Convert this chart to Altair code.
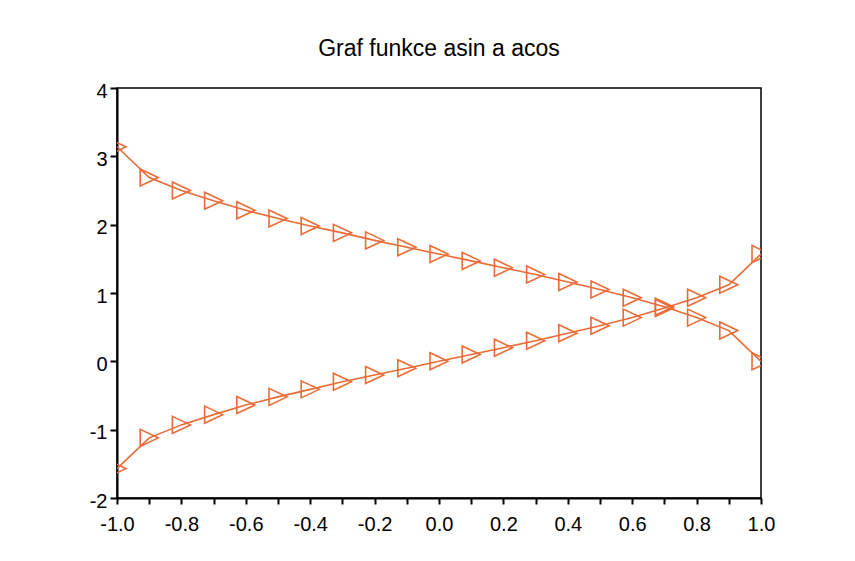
import altair as alt
import pandas as pd

x_vals = [-1.0, -0.9, -0.8, -0.7, -0.6, -0.5, -0.4, -0.3, -0.2, -0.1, 0.0,
          0.1, 0.2, 0.3, 0.4, 0.5, 0.6, 0.7, 0.8, 0.9, 1.0]
asin_vals = [-1.57, -1.12, -0.93, -0.78, -0.64, -0.52, -0.41, -0.30, -0.20, -0.10, 0.0,
             0.10, 0.20, 0.30, 0.41, 0.52, 0.64, 0.78, 0.93, 1.12, 1.57]
acos_vals = [3.14, 2.69, 2.50, 2.35, 2.21, 2.09, 1.98, 1.88, 1.77, 1.67, 1.57,
             1.47, 1.37, 1.27, 1.16, 1.05, 0.93, 0.80, 0.64, 0.45, 0.0]
x_ticks = [round(-1.0 + 0.1 * i, 1) for i in range(21)]
y_ticks = [-2 + 0.25 * i for i in range(25)]

rows = []
for xv, a in zip(x_vals, asin_vals):
    rows.append({"x": xv, "y": a, "f": "asin"})
for xv, c in zip(x_vals, acos_vals):
    rows.append({"x": xv, "y": c, "f": "acos"})
df = pd.DataFrame(rows)

COLOR = "#ec6a35"
FONT = "Liberation Sans"

xenc = alt.X("x:Q", scale=alt.Scale(domain=[-1, 1], nice=False, zero=False),
             axis=alt.Axis(values=x_ticks, format=".1f",
                           labelExpr="abs(round(datum.value*10)) % 2 == 0 ? replace(datum.label, '\u2212', '-') : ''",
                           title=None, grid=False, domainColor="black", domainWidth=2,
                           tickColor="black", tickWidth=2, tickSize=6,
                           labelFont=FONT, labelFontSize=20, labelColor="black",
                           labelPadding=10, labelFlush=False))
yenc = alt.Y("y:Q", scale=alt.Scale(domain=[-2, 4], nice=False, zero=False),
             axis=alt.Axis(values=y_ticks, format="d",
                           labelExpr="datum.value % 1 == 0 ? replace(datum.label, '\u2212', '-') : ''",
                           title=None, grid=False, domainColor="black", domainWidth=2,
                           tickColor="black", tickWidth=2, tickSize=7,
                           labelFont=FONT, labelFontSize=20, labelColor="black",
                           labelPadding=3, labelOffset=3, labelFlush=False))

base = alt.Chart(df).encode(x=xenc, y=yenc, detail="f:N")

lines = base.mark_line(color=COLOR, strokeWidth=1.6, clip=True)
pts = base.mark_point(shape="M-0.9,-0.85L0.9,0L-0.9,0.85Z", size=400, filled=False,
                      color=COLOR, strokeWidth=1.6, opacity=1, clip=True)

chart = (lines + pts).properties(
    width=644, height=410,
    title=alt.TitleParams("Graf funkce asin a acos", font=FONT, fontSize=23,
                          fontWeight="normal", color="black", anchor="middle",
                          offset=20),
    autosize=alt.AutoSizeParams(type="none"),
    padding={"left": 117, "top": 88, "right": 94, "bottom": 63},
    background="white",
).configure_view(stroke="black", strokeWidth=1.5)

chart.save("out.html", embed_options={"renderer": "svg", "actions": False})
